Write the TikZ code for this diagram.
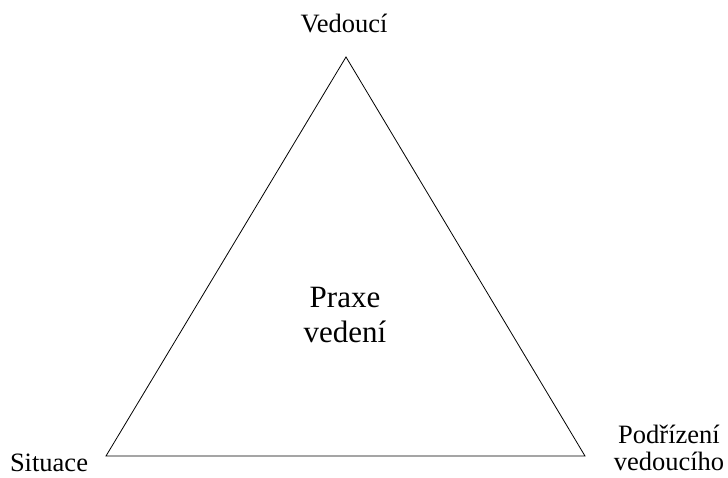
\documentclass[tikz,border=0pt]{standalone}
\usepackage{fontspec}
\setmainfont{Liberation Serif}
\usetikzlibrary{positioning}

\tikzset{
  corner/.style={inner sep=0pt, anchor=base, font=\fontsize{26.5}{27}\selectfont},
  middle/.style={inner sep=0pt, anchor=base, align=center, font=\fontsize{31}{35}\selectfont},
}

\begin{document}
\begin{tikzpicture}[x=1pt,y=1pt]
\useasboundingbox (0,0) rectangle (728,477);

\coordinate (top) at (346,420);
\coordinate (left) at (106,21);
\coordinate (right) at (585,21);

\draw[line width=0.8pt] (left) -- (right) -- (top) -- cycle;

\node[corner] (leader) at (344,444) {Vedoucí};
\node[corner] (situation) at (49,6) {Situace};
\node[corner, align=center] (followers) at (669,7) {Podřízení\\vedoucího};
\node[middle] (practice) at (345,135) {Praxe\\vedení};
\end{tikzpicture}
\end{document}
